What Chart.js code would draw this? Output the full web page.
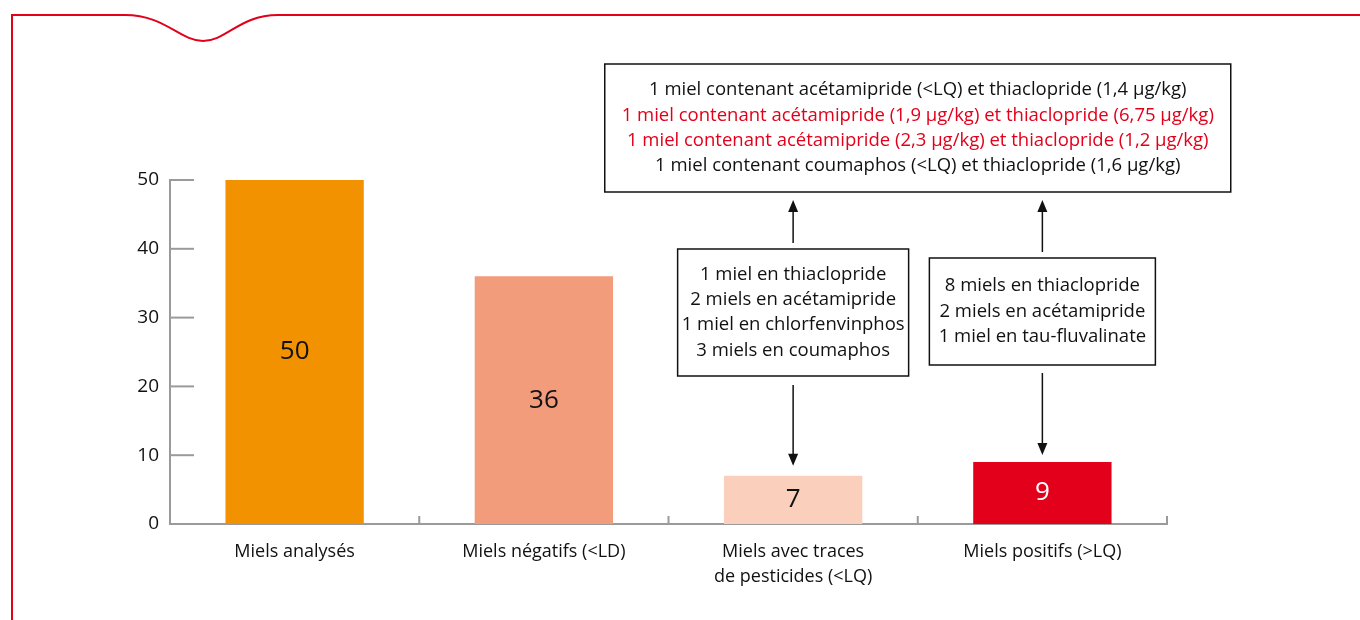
<!DOCTYPE html>
<html>
<head>
<meta charset="utf-8">
<script src="https://cdn.jsdelivr.net/npm/chart.js@4"></script>
<style>
  html, body { margin: 0; padding: 0; background: #fff; }
  canvas { display: block; }
</style>
</head>
<body>
<canvas id="chartBar" width="1360" height="620"></canvas>
<script>
// data
const categories = [
  ['Miels analysés'],
  ['Miels négatifs (<LD)'],
  ['Miels avec traces', 'de pesticides (<LQ)'],
  ['Miels positifs (>LQ)']
];
const values = [50, 36, 7, 9];
const barColors = ['#F39200', '#F29C7C', '#FAD0BC', '#E2001A'];
const valueColors = ['#111111', '#111111', '#111111', '#ffffff'];
const yTicks = [0, 10, 20, 30, 40, 50];

const tracesDetail = ['1 miel en thiaclopride', '2 miels en acétamipride', '1 miel en chlorfenvinphos', '3 miels en coumaphos'];
const positifsDetail = ['8 miels en thiaclopride', '2 miels en acétamipride', '1 miel en tau-fluvalinate'];
const combinedDetail = [
  '1 miel contenant acétamipride (<LQ) et thiaclopride (1,4 µg/kg)',
  '1 miel contenant acétamipride (1,9 µg/kg) et thiaclopride (6,75 µg/kg)',
  '1 miel contenant acétamipride (2,3 µg/kg) et thiaclopride (1,2 µg/kg)',
  '1 miel contenant coumaphos (<LQ) et thiaclopride (1,6 µg/kg)'
];
const combinedColors = ['#111111', '#E2001A', '#E2001A', '#111111'];

const FONT = '"Open Sans", "Noto Sans", sans-serif';
const RED = '#E2001A';
const AXIS = '#9a9a9a';

function drawBox(ctx, cx, top, w, h, lines, colors) {
  ctx.save();
  ctx.fillStyle = '#fff';
  ctx.fillRect(cx - w / 2, top, w, h);
  ctx.strokeStyle = '#111';
  ctx.lineWidth = 1.5;
  ctx.strokeRect(cx - w / 2, top, w, h);
  ctx.font = '18.5px ' + FONT;
  ctx.textAlign = 'center';
  ctx.textBaseline = 'middle';
  const lh = 25.3;
  const y0 = top + h / 2 - (lines.length - 1) * lh / 2;
  lines.forEach((t, i) => {
    ctx.fillStyle = colors ? colors[i] : '#111';
    ctx.fillText(t, cx, y0 + i * lh);
  });
  ctx.restore();
}

function arrow(ctx, x, y1, y2) { // from y1 to tip at y2
  const dir = y2 > y1 ? 1 : -1;
  ctx.save();
  ctx.strokeStyle = '#111';
  ctx.fillStyle = '#111';
  ctx.lineWidth = 1.5;
  ctx.beginPath();
  ctx.moveTo(x, y1);
  ctx.lineTo(x, y2 - dir * 8);
  ctx.stroke();
  ctx.beginPath();
  ctx.moveTo(x, y2);
  ctx.lineTo(x - 5, y2 - dir * 12);
  ctx.lineTo(x + 5, y2 - dir * 12);
  ctx.closePath();
  ctx.fill();
  ctx.restore();
}

const decor = {
  id: 'decor',
  beforeDraw(chart) {
    const ctx = chart.ctx;
    ctx.save();
    ctx.strokeStyle = RED;
    ctx.lineWidth = 2;
    ctx.beginPath();
    ctx.moveTo(12, 620);
    ctx.lineTo(12, 15);
    ctx.lineTo(125, 15);
    ctx.bezierCurveTo(165, 15, 180, 41, 203, 41);
    ctx.bezierCurveTo(226, 41, 240, 15, 278, 15);
    ctx.lineTo(1360, 15);
    ctx.stroke();
    ctx.restore();
  },
  afterDraw(chart) {
    const ctx = chart.ctx;
    const x = chart.scales.x, y = chart.scales.y;
    const area = chart.chartArea;
    // inward y ticks
    ctx.save();
    ctx.strokeStyle = AXIS;
    ctx.lineWidth = 2;
    yTicks.slice(1).forEach(v => {
      const py = y.getPixelForValue(v);
      ctx.beginPath();
      ctx.moveTo(area.left, py);
      ctx.lineTo(area.left + 24, py);
      ctx.stroke();
    });
    // upward category ticks
    const step = (area.right - area.left) / categories.length;
    for (let i = 1; i <= categories.length; i++) {
      const px = area.left + step * i;
      ctx.beginPath();
      ctx.moveTo(px, area.bottom);
      ctx.lineTo(px, area.bottom - 8);
      ctx.stroke();
    }
    ctx.restore();

    // value labels
    const meta = chart.getDatasetMeta(0);
    ctx.save();
    ctx.font = '26px ' + FONT;
    ctx.textAlign = 'center';
    ctx.textBaseline = 'middle';
    meta.data.forEach((bar, i) => {
      ctx.fillStyle = valueColors[i];
      ctx.fillText(String(values[i]), bar.x, (bar.y + bar.base) / 2);
    });
    ctx.restore();

    // annotations
    const c2 = x.getPixelForValue(2), c3 = x.getPixelForValue(3);
    drawBox(ctx, (c2 + c3) / 2, 64, 626, 128, combinedDetail, combinedColors);
    drawBox(ctx, c2, 249, 231, 127, tracesDetail);
    drawBox(ctx, c3, 258, 226, 107, positifsDetail);
    arrow(ctx, c2, 243, 200);
    arrow(ctx, c3, 252, 200);
    arrow(ctx, c2, 385, meta.data[2].y - 10);
    arrow(ctx, c3, 373, meta.data[3].y - 7);
  }
};

new Chart(document.getElementById('chartBar'), {
  type: 'bar',
  data: {
    labels: categories,
    datasets: [{
      data: values,
      backgroundColor: barColors,
      borderWidth: 0,
      barPercentage: 0.555,
      categoryPercentage: 1
    }]
  },
  options: {
    responsive: false,
    animation: false,
    layout: { padding: { left: 0, right: 193, top: 180, bottom: 0 } },
    plugins: { legend: { display: false }, tooltip: { enabled: false } },
    scales: {
      y: {
        min: 0, max: 50,
        afterFit(s) { s.width = 170; },
        afterBuildTicks(s) { s.ticks = yTicks.map(v => ({ value: v })); },
        grid: { display: false, drawTicks: false },
        border: { display: true, color: AXIS, width: 2 },
        ticks: { padding: 11, color: '#111', font: { family: FONT, size: 19 } }
      },
      x: {
        afterFit(s) { s.height = 96; },
        grid: { display: false, drawTicks: false },
        border: { display: true, color: AXIS, width: 2 },
        ticks: { padding: 15, color: '#111', maxRotation: 0, autoSkip: false, font: { family: FONT, size: 18, lineHeight: 1.4 } }
      }
    }
  },
  plugins: [decor]
});
</script>
</body>
</html>
